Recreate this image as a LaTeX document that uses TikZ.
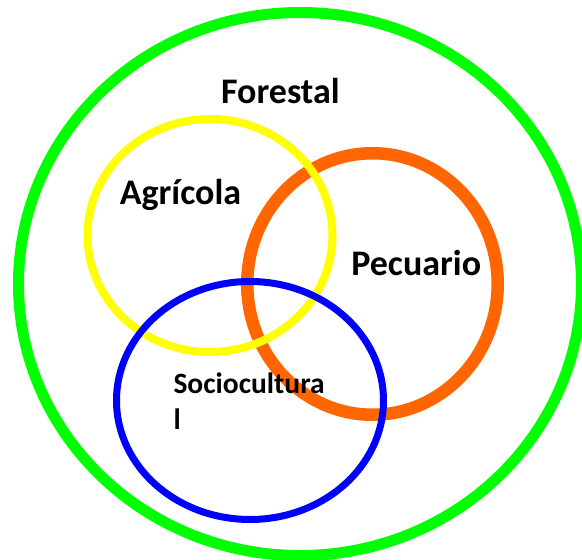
\documentclass[tikz,border=0pt]{standalone}
\usepackage{fontspec}
\setmainfont{Carlito}
\usetikzlibrary{shapes.geometric}

\definecolor{forestgreen}{HTML}{00FF00}
\definecolor{agriyellow}{HTML}{FFFF00}
\definecolor{pecorange}{HTML}{FF6600}
\definecolor{socblue}{HTML}{0000FF}

\tikzset{
  ring/.style={ellipse,draw,inner sep=0pt,outer sep=0pt},
  label big/.style={font=\bfseries\fontsize{36}{43}\selectfont,inner sep=0pt},
  label small/.style={font=\bfseries\fontsize{29.5}{35.5}\selectfont,inner sep=0pt,align=left}
}

\begin{document}
\begin{tikzpicture}[x=1pt,y=-1pt]

      \useasboundingbox (0,0) rectangle (582,560);

      \begin{scope}[every node/.style={ring}]
        \node (forestal) at (300,284)   [draw=forestgreen,line width=11pt,minimum width=563,minimum height=543] {};
        \node (pecuario) at (372.5,284) [draw=pecorange,line width=12.5pt,minimum width=250.5,minimum height=261.5] {};
        \node (agricola) at (210,235.5) [draw=agriyellow,line width=8pt,minimum width=245,minimum height=233] {};
        \node (social)   at (250,400.5) [draw=socblue,line width=7pt,minimum width=267,minimum height=238] {};
      \end{scope}

      \begin{scope}[every node/.style={label big,anchor=base}]
        \node (forestal text) at (280.4,103.3) {Forestal};
        \node (agricola text) at (180.5,204)   {Agrícola};
        \node (pecuario text) at (416.2,275.7) {Pecuario};
      \end{scope}

      % anchor sits on the last line
      \node (social text) [label small,anchor=base west] at (173.3,429) {Sociocultura\\l};

    \end{tikzpicture}
\end{document}
